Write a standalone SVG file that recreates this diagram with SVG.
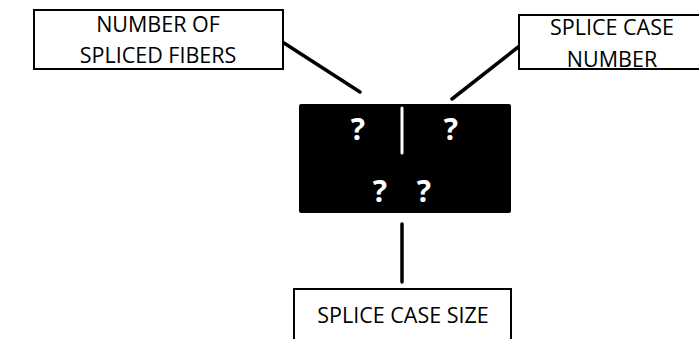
<svg xmlns="http://www.w3.org/2000/svg" width="699" height="339" viewBox="0 0 699 339">
<style>
.box{fill:#fff;stroke:#000;stroke-width:2}
.lbl{font-family:"Open Sans","Liberation Sans",sans-serif;font-size:21.5px;fill:#000;text-anchor:middle}
.q{font-family:"Open Sans","Liberation Sans",sans-serif;font-size:30px;font-weight:bold;fill:#fff;text-anchor:middle}
.conn{stroke:#000;stroke-width:3.5;stroke-linecap:round;fill:none}
</style>
<rect width="699" height="339" fill="#fff"/>
<g id="connectors">
<line class="conn" x1="284" y1="43" x2="360" y2="92"/>
<line class="conn" x1="522" y1="44" x2="452" y2="99"/>
<line class="conn" x1="402" y1="224" x2="402" y2="282"/>
</g>
<g id="spliced-fibers">
<rect class="box" x="34" y="10" width="249" height="59"/>
<text class="lbl" x="158" y="32">NUMBER OF</text>
<text class="lbl" x="158" y="63">SPLICED FIBERS</text>
</g>
<g id="splice-case-number">
<rect class="box" x="519" y="15" width="190" height="54"/>
<text class="lbl" x="612" y="35">SPLICE CASE</text>
<text class="lbl" x="612" y="67">NUMBER</text>
</g>
<g id="splice-case">
<rect x="299" y="104" width="212" height="109" rx="2" fill="#000"/>
<line x1="402" y1="108" x2="402" y2="153" stroke="#fff" stroke-width="3" stroke-linecap="round"/>
<text class="q" x="358" y="140">?</text>
<text class="q" x="451" y="140">?</text>
<text class="q" x="380" y="202">?</text>
<text class="q" x="424" y="202">?</text>
</g>
<g id="splice-case-size">
<rect class="box" x="294" y="289" width="217" height="60"/>
<text class="lbl" x="403" y="323">SPLICE CASE SIZE</text>
</g>
</svg>
